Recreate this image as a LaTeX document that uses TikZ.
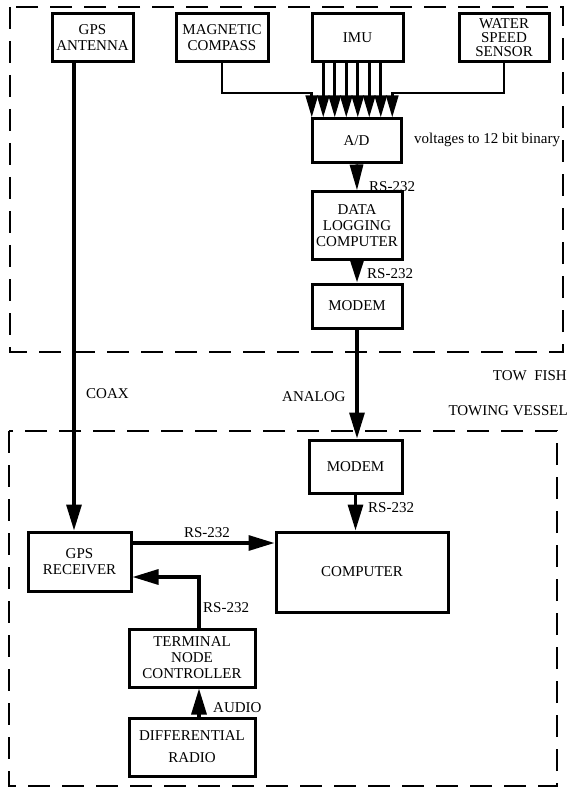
\documentclass[tikz,border=0pt]{standalone}
\usepackage{fontspec}
\setmainfont{Liberation Serif}
\usetikzlibrary{arrows.meta}
\begin{document}
\begin{tikzpicture}[x=1pt,y=-1pt,
  box/.style={draw, line width=3pt, inner sep=0pt, align=center, font=\fontsize{15}{16}\selectfont},
  lbl/.style={inner sep=0pt, font=\fontsize{15}{16}\selectfont},
  conn/.style={line width=3.2pt, -{Triangle[length=26pt,width=15pt]}},
  small/.style={line width=2.8pt, -{Triangle[length=22pt,width=12pt]}},
  region/.style={line width=2.3pt, dash pattern=on 22pt off 12pt}
]
\fill[white] (0,0) rectangle (572,791);
\useasboundingbox (0,0) rectangle (572,791);

% regions
\draw[region] (10,7) rectangle (563,352);
\draw[region] (9,431) rectangle (557,786);

% boxes
\node[box, minimum width=81pt, minimum height=48pt] (antenna) at (92.5,38) {GPS\\ANTENNA};
\node[box, minimum width=92pt, minimum height=48pt] (compass) at (222,38) {MAGNETIC\\COMPASS};
\node[box, minimum width=91pt, minimum height=48pt] (imu) at (357.5,37.5) {IMU};
\node[box, minimum width=90pt, minimum height=48pt, font=\fontsize{15}{14}\selectfont] (sensor) at (504,38) {WATER\\SPEED\\SENSOR};
\node[box, minimum width=89pt, minimum height=44pt] (ad) at (356.5,141) {A/D};
\node[box, minimum width=90pt, minimum height=68pt] (dlc) at (357,226) {DATA\\LOGGING\\COMPUTER};
\node[box, minimum width=90pt, minimum height=44pt] (modemA) at (357,306) {MODEM};
\node[box, minimum width=93pt, minimum height=53pt] (modemB) at (355.5,466.5) {MODEM};
\node[box, minimum width=172pt, minimum height=80pt] (computer) at (362,572) {COMPUTER};
\node[box, minimum width=103pt, minimum height=59pt] (receiver) at (79.5,561.5) {GPS\\RECEIVER};
\node[box, minimum width=126pt, minimum height=58pt] (tnc) at (192,658) {TERMINAL\\NODE\\CONTROLLER};
\node[box, minimum width=126pt, minimum height=58pt] (radio) at (192,747) {DIFFERENTIAL\\[6pt]RADIO};

% sensor bus into A/D
\coordinate (k1) at (311.75,93);
\coordinate (k8) at (392.25,93);
\draw[small] (compass.south) |- (k1) -- (ad.north -| k1);
\draw[small] (sensor.south) |- (k8) -- (ad.north -| k8);
\foreach \i/\x in {2/323.25,3/334.75,4/346.25,5/357.75,6/369.25,7/380.75}{
  \coordinate (k\i) at (\x,93);
  \draw[small] (imu.south -| k\i) -- (ad.north -| k\i);
}

% tow fish chain
\draw[conn, -{Triangle[length=26pt,width=13pt]}] (ad.south) -- (dlc.north);
\draw[conn, -{Triangle[length=22pt,width=13pt]}] (dlc.south) -- (dlc.south |- modemA.north);
\draw[conn] (modemA.south) -- (modemA.south |- modemB.north);
\draw[conn] (modemB.south) -- (modemB.south |- computer.north);

% GPS
\coordinate (cx) at (74,0);
\draw[conn] (antenna.south -| cx) -- (receiver.north -| cx);
\coordinate (ry) at (0,543);
\draw[conn] (receiver.east |- ry) -- (computer.west |- ry);
\coordinate (tx) at (199,577);
\draw[conn] (tnc.north -| tx) |- (receiver.east |- tx);
\draw[conn] (radio.north -| tx) -- (tnc.south -| tx);

% labels
\node[lbl, anchor=west] (l1) at (369,187) {RS-232};
\node[lbl, anchor=west] (l2) at (367,274) {RS-232};
\node[lbl, anchor=west] (l3) at (414,140) {voltages to 12 bit binary};
\node[lbl, anchor=west] (l4) at (86,394) {COAX};
\node[lbl, anchor=west] (l5) at (282,397) {ANALOG};
\node[lbl, anchor=east] (l6) at (567,376) {TOW\ \ FISH};
\node[lbl, anchor=east] (l7) at (568,411) {TOWING VESSEL};
\node[lbl, anchor=west] (l8) at (368,508) {RS-232};
\node[lbl] (l9) at (207,533) {RS-232};
\node[lbl, anchor=west] (l10) at (203,608) {RS-232};
\node[lbl, anchor=west] (l11) at (213,708) {AUDIO};
\end{tikzpicture}
\end{document}
